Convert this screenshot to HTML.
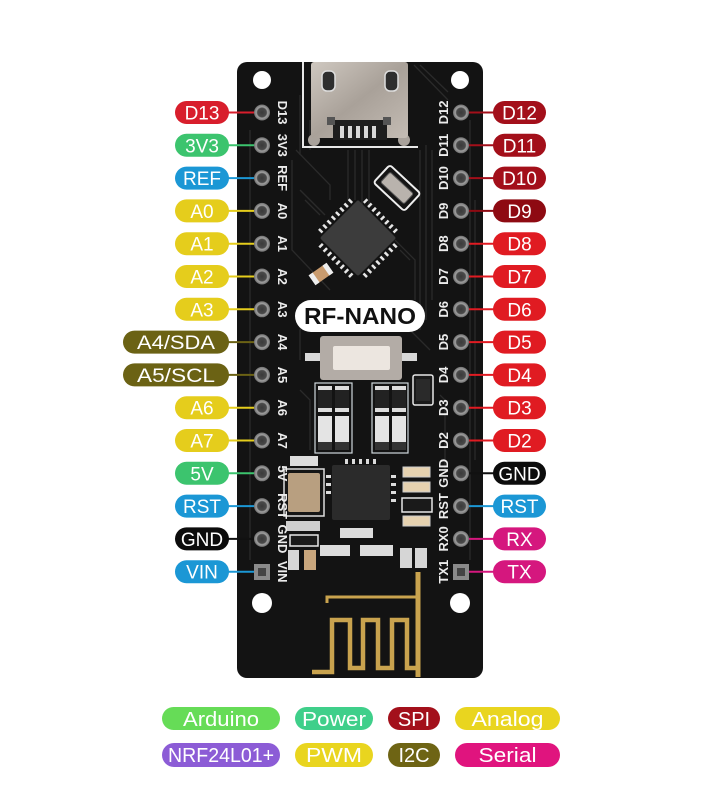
<!DOCTYPE html>
<html><head><meta charset="utf-8"><style>
html,body{margin:0;padding:0;background:#fff;}
svg{display:block;}
text{font-family:"Liberation Sans",sans-serif;}
</style></head><body>
<svg width="701" height="804" viewBox="0 0 701 804" xmlns="http://www.w3.org/2000/svg">
<defs>
<radialGradient id="pad" cx="50%" cy="50%" r="50%">
<stop offset="0" stop-color="#3a3a3a"/><stop offset="0.55" stop-color="#4a4a4a"/><stop offset="0.7" stop-color="#a0a0a0"/><stop offset="1" stop-color="#707070"/>
</radialGradient>
<linearGradient id="metal" x1="0" y1="0" x2="1" y2="1">
<stop offset="0" stop-color="#cfc8c0"/><stop offset="0.5" stop-color="#a9a199"/><stop offset="1" stop-color="#c4bcb4"/>
</linearGradient>
</defs>
<rect width="701" height="804" fill="#fff"/>

<!-- Board -->
<rect x="237" y="62" width="246" height="616" rx="10" fill="#131313"/>

<!-- traces -->
<g stroke="#2a2a2a" stroke-width="1.3" fill="none">
<path d="M250 130 L250 560"/><path d="M292 160 L292 250 L330 290"/>
<path d="M296 150 L330 185 L330 200"/><path d="M300 190 L325 215"/><path d="M305 200 L320 215"/>
<path d="M300 155 L300 95 M310 150 L310 120"/>
<path d="M420 150 L420 330 M426 145 L426 320 M432 150 L432 300"/>
<path d="M414 65 L448 100 M420 65 L448 92"/>
<path d="M395 240 L415 260 L415 300 M400 250 L410 260"/>
<path d="M320 300 L300 330 L300 360 M410 330 L430 350"/>
<path d="M300 390 L310 400 L310 450 M440 395 L445 400 L445 470"/>
<path d="M470 120 L470 560 M475 200 L475 460"/>
<path d="M355 150 L355 200 M362 150 L362 205 M369 150 L369 205 M348 150 L348 200"/>
</g>

<!-- USB connector -->
<path d="M303 62 L303 147 L418 147" stroke="#e8e8e8" stroke-width="2" fill="none"/>
<circle cx="314" cy="140" r="6" fill="#a9a29b"/><circle cx="404" cy="140" r="6" fill="#a9a29b"/>
<rect x="311" y="62" width="97" height="76" rx="3" fill="url(#metal)"/>
<rect x="322" y="71" width="13" height="20" rx="5" fill="#2e2e2e" stroke="#ddd" stroke-width="1.5"/>
<rect x="385" y="71" width="13" height="20" rx="5" fill="#2e2e2e" stroke="#ddd" stroke-width="1.5"/>
<rect x="333" y="120" width="54" height="20" fill="#1e1e1e"/>
<g fill="#d8d8d8"><rect x="340" y="126" width="4" height="12"/><rect x="348" y="126" width="4" height="12"/><rect x="356" y="126" width="4" height="12"/><rect x="364" y="126" width="4" height="12"/><rect x="372" y="126" width="4" height="12"/></g>
<rect x="327" y="117" width="8" height="8" fill="#555"/><rect x="383" y="117" width="8" height="8" fill="#555"/>

<!-- mounting holes -->
<circle cx="262" cy="80" r="9" fill="#fff"/><circle cx="460" cy="80" r="9" fill="#fff"/>
<circle cx="262" cy="603" r="10" fill="#fff"/><circle cx="460" cy="603" r="10" fill="#fff"/>

<!-- crystal near chip -->
<g transform="translate(397,188) rotate(43)">
<rect x="-21" y="-12" width="42" height="24" rx="3" fill="#151515" stroke="#eee" stroke-width="2"/>
<rect x="-16" y="-7" width="32" height="14" rx="2" fill="#b9b3ad" stroke="#555" stroke-width="1"/>
</g>

<!-- MCU chip -->
<g transform="translate(358,238) rotate(45)">
<rect x="-27" y="-27" width="54" height="54" rx="2" fill="#3c3c3c"/>
<g fill="#e6e6e6">
<rect x="-22" y="-34" width="2.5" height="5"/><rect x="-16" y="-34" width="2.5" height="5"/><rect x="-10" y="-34" width="2.5" height="5"/><rect x="-4" y="-34" width="2.5" height="5"/><rect x="2" y="-34" width="2.5" height="5"/><rect x="8" y="-34" width="2.5" height="5"/><rect x="14" y="-34" width="2.5" height="5"/><rect x="20" y="-34" width="2.5" height="5"/>
<rect x="-22" y="29" width="2.5" height="5"/><rect x="-16" y="29" width="2.5" height="5"/><rect x="-10" y="29" width="2.5" height="5"/><rect x="-4" y="29" width="2.5" height="5"/><rect x="2" y="29" width="2.5" height="5"/><rect x="8" y="29" width="2.5" height="5"/><rect x="14" y="29" width="2.5" height="5"/><rect x="20" y="29" width="2.5" height="5"/>
<rect y="-22" x="-34" height="2.5" width="5"/><rect y="-16" x="-34" height="2.5" width="5"/><rect y="-10" x="-34" height="2.5" width="5"/><rect y="-4" x="-34" height="2.5" width="5"/><rect y="2" x="-34" height="2.5" width="5"/><rect y="8" x="-34" height="2.5" width="5"/><rect y="14" x="-34" height="2.5" width="5"/><rect y="20" x="-34" height="2.5" width="5"/>
<rect y="-22" x="29" height="2.5" width="5"/><rect y="-16" x="29" height="2.5" width="5"/><rect y="-10" x="29" height="2.5" width="5"/><rect y="-4" x="29" height="2.5" width="5"/><rect y="2" x="29" height="2.5" width="5"/><rect y="8" x="29" height="2.5" width="5"/><rect y="14" x="29" height="2.5" width="5"/><rect y="20" x="29" height="2.5" width="5"/>
</g>
</g>

<!-- small cap near chip -->
<g transform="translate(321,274) rotate(-35)">
<rect x="-10" y="-6" width="20" height="12" fill="#c99b6e"/>
<rect x="-11" y="-6" width="5" height="12" fill="#eee"/><rect x="6" y="-6" width="5" height="12" fill="#eee"/>
</g>

<!-- RF-NANO label -->
<rect x="295" y="300" width="130" height="32" rx="16" fill="#fff"/>
<text x="360" y="324" font-size="23" font-weight="bold" fill="#111" text-anchor="middle" textLength="112" lengthAdjust="spacingAndGlyphs">RF-NANO</text>

<!-- button -->
<rect x="305" y="353" width="16" height="8" fill="#d8d8d8"/><rect x="401" y="353" width="16" height="8" fill="#d8d8d8"/>
<rect x="320" y="336" width="82" height="44" rx="3" fill="#b3aca6"/>
<rect x="333" y="346" width="57" height="24" rx="2" fill="#ece6e0"/>

<!-- resistor/LED pairs -->
<g>
<rect x="315" y="383" width="37" height="70" fill="none" stroke="#cfd8dc" stroke-width="1.2"/>
<rect x="372" y="383" width="36" height="70" fill="none" stroke="#cfd8dc" stroke-width="1.2"/>
<g fill="#222"><rect x="318" y="386" width="14" height="26"/><rect x="335" y="386" width="14" height="26"/><rect x="375" y="386" width="14" height="26"/><rect x="392" y="386" width="14" height="26"/></g>
<g fill="#ddd"><rect x="318" y="386" width="14" height="4"/><rect x="335" y="386" width="14" height="4"/><rect x="375" y="386" width="14" height="4"/><rect x="392" y="386" width="14" height="4"/>
<rect x="318" y="408" width="14" height="4"/><rect x="335" y="408" width="14" height="4"/><rect x="375" y="408" width="14" height="4"/><rect x="392" y="408" width="14" height="4"/></g>
<g fill="#e4e4e4"><rect x="318" y="416" width="14" height="28"/><rect x="335" y="416" width="14" height="28"/><rect x="375" y="416" width="14" height="28"/><rect x="392" y="416" width="14" height="28"/></g>
<g fill="#333"><rect x="318" y="442" width="14" height="8"/><rect x="335" y="442" width="14" height="8"/><rect x="375" y="442" width="14" height="8"/><rect x="392" y="442" width="14" height="8"/></g>
<rect x="413" y="375" width="20" height="30" rx="2" fill="#1a1a1a" stroke="#e8e8e8" stroke-width="1.5"/>
<rect x="416" y="379" width="14" height="22" fill="#2a2a2a"/>
</g>

<!-- QFN -->
<rect x="332" y="465" width="58" height="55" rx="2" fill="#2b2b2b"/>
<g fill="#dcdcdc">
<rect x="345" y="459" width="3" height="5"/><rect x="352" y="459" width="3" height="5"/><rect x="359" y="459" width="3" height="5"/><rect x="366" y="459" width="3" height="5"/><rect x="373" y="459" width="3" height="5"/>
<rect x="391" y="475" width="5" height="3"/><rect x="391" y="483" width="5" height="3"/><rect x="391" y="491" width="5" height="3"/><rect x="391" y="499" width="5" height="3"/>
<rect x="326" y="475" width="5" height="3"/><rect x="326" y="483" width="5" height="3"/><rect x="326" y="491" width="5" height="3"/>
</g>

<!-- crystal 5V -->
<rect x="290" y="456" width="28" height="10" fill="#ddd"/>
<rect x="284" y="469" width="40" height="47" fill="#151515" stroke="#ddd" stroke-width="1.5"/>
<rect x="288" y="473" width="32" height="39" rx="2" fill="#b89f80"/>
<rect x="286" y="521" width="34" height="10" fill="#cfcfcf"/>
<rect x="290" y="535" width="28" height="11" fill="#1a1a1a" stroke="#e8e8e8" stroke-width="1.5"/>
<rect x="288" y="550" width="11" height="20" fill="#d6d6d6"/><rect x="304" y="550" width="12" height="20" fill="#c9a67c"/>

<!-- right caps -->
<rect x="403" y="467" width="27" height="10" fill="#e6d2b0" stroke="#ccc"/>
<rect x="403" y="482" width="27" height="10" fill="#e6d2b0" stroke="#ccc"/>
<rect x="402" y="498" width="30" height="14" fill="#1a1a1a" stroke="#e8e8e8" stroke-width="1.5"/>
<rect x="403" y="516" width="27" height="10" fill="#e6d2b0" stroke="#ccc"/>
<rect x="340" y="528" width="33" height="10" fill="#dcdcdc"/>
<rect x="320" y="545" width="30" height="11" fill="#dcdcdc"/>
<rect x="360" y="545" width="33" height="11" fill="#dcdcdc"/>
<rect x="400" y="548" width="12" height="20" fill="#d6d6d6"/><rect x="415" y="548" width="12" height="20" fill="#d6d6d6"/>

<!-- antenna -->
<g stroke="#c9a34e" fill="none">
<path d="M418 572 L418 677" stroke-width="5"/>
<path d="M327 603 L327 597 L418 597" stroke-width="3"/>
<path d="M312 672 L332 672 L332 620 L350 620 L350 668 L363 668 L363 620 L378 620 L378 668 L392 668 L392 620 L407 620 L407 668 L418 668" stroke-width="4.5"/>
</g>

<!-- connectors left -->
<g stroke-width="2">
<line x1="228" y1="112.5" x2="262" y2="112.5" stroke="#d81e2c"/>
<line x1="228" y1="145.3" x2="262" y2="145.3" stroke="#3cc46e"/>
<line x1="228" y1="178.1" x2="262" y2="178.1" stroke="#1b97d5"/>
<line x1="228" y1="210.9" x2="262" y2="210.9" stroke="#e5cd1c"/>
<line x1="228" y1="243.7" x2="262" y2="243.7" stroke="#e5cd1c"/>
<line x1="228" y1="276.5" x2="262" y2="276.5" stroke="#e5cd1c"/>
<line x1="228" y1="309.3" x2="262" y2="309.3" stroke="#e5cd1c"/>
<line x1="228" y1="342.1" x2="262" y2="342.1" stroke="#6b6214"/>
<line x1="228" y1="374.9" x2="262" y2="374.9" stroke="#6b6214"/>
<line x1="228" y1="407.7" x2="262" y2="407.7" stroke="#e5cd1c"/>
<line x1="228" y1="440.5" x2="262" y2="440.5" stroke="#e5cd1c"/>
<line x1="228" y1="473.3" x2="262" y2="473.3" stroke="#3cc46e"/>
<line x1="228" y1="506.1" x2="262" y2="506.1" stroke="#1b97d5"/>
<line x1="228" y1="538.9" x2="262" y2="538.9" stroke="#111"/>
<line x1="228" y1="571.7" x2="262" y2="571.7" stroke="#1b97d5"/>
</g>
<!-- connectors right -->
<g stroke-width="2">
<line x1="461" y1="112.5" x2="494" y2="112.5" stroke="#a30f1a"/>
<line x1="461" y1="145.3" x2="494" y2="145.3" stroke="#a30f1a"/>
<line x1="461" y1="178.1" x2="494" y2="178.1" stroke="#a30f1a"/>
<line x1="461" y1="210.9" x2="494" y2="210.9" stroke="#8e0a12"/>
<line x1="461" y1="243.7" x2="494" y2="243.7" stroke="#e01b22"/>
<line x1="461" y1="276.5" x2="494" y2="276.5" stroke="#e01b22"/>
<line x1="461" y1="309.3" x2="494" y2="309.3" stroke="#e01b22"/>
<line x1="461" y1="342.1" x2="494" y2="342.1" stroke="#e01b22"/>
<line x1="461" y1="374.9" x2="494" y2="374.9" stroke="#e01b22"/>
<line x1="461" y1="407.7" x2="494" y2="407.7" stroke="#e01b22"/>
<line x1="461" y1="440.5" x2="494" y2="440.5" stroke="#e01b22"/>
<line x1="461" y1="473.3" x2="494" y2="473.3" stroke="#111"/>
<line x1="461" y1="506.1" x2="494" y2="506.1" stroke="#1b97d5"/>
<line x1="461" y1="538.9" x2="494" y2="538.9" stroke="#d5177e"/>
<line x1="461" y1="571.7" x2="494" y2="571.7" stroke="#d5177e"/>
</g>

<!-- pads -->
<g fill="url(#pad)">
<circle cx="262" cy="112.5" r="8"/><circle cx="262" cy="145.3" r="8"/><circle cx="262" cy="178.1" r="8"/><circle cx="262" cy="210.9" r="8"/><circle cx="262" cy="243.7" r="8"/><circle cx="262" cy="276.5" r="8"/><circle cx="262" cy="309.3" r="8"/><circle cx="262" cy="342.1" r="8"/><circle cx="262" cy="374.9" r="8"/><circle cx="262" cy="407.7" r="8"/><circle cx="262" cy="440.5" r="8"/><circle cx="262" cy="473.3" r="8"/><circle cx="262" cy="506.1" r="8"/><circle cx="262" cy="538.9" r="8"/>
<circle cx="461" cy="112.5" r="8"/><circle cx="461" cy="145.3" r="8"/><circle cx="461" cy="178.1" r="8"/><circle cx="461" cy="210.9" r="8"/><circle cx="461" cy="243.7" r="8"/><circle cx="461" cy="276.5" r="8"/><circle cx="461" cy="309.3" r="8"/><circle cx="461" cy="342.1" r="8"/><circle cx="461" cy="374.9" r="8"/><circle cx="461" cy="407.7" r="8"/><circle cx="461" cy="440.5" r="8"/><circle cx="461" cy="473.3" r="8"/><circle cx="461" cy="506.1" r="8"/><circle cx="461" cy="538.9" r="8"/>
</g>
<rect x="254" y="564" width="16" height="16" fill="#8a8a8a"/><rect x="258" y="568" width="8" height="8" fill="#444"/>
<rect x="453" y="564" width="16" height="16" fill="#8a8a8a"/><rect x="457" y="568" width="8" height="8" fill="#444"/>

<!-- silk labels left -->
<g font-size="13" font-weight="bold" fill="#ececec" text-anchor="middle">
<text transform="translate(278,112.5) rotate(90)">D13</text>
<text transform="translate(278,145.3) rotate(90)">3V3</text>
<text transform="translate(278,178.1) rotate(90)">REF</text>
<text transform="translate(278,210.9) rotate(90)">A0</text>
<text transform="translate(278,243.7) rotate(90)">A1</text>
<text transform="translate(278,276.5) rotate(90)">A2</text>
<text transform="translate(278,309.3) rotate(90)">A3</text>
<text transform="translate(278,342.1) rotate(90)">A4</text>
<text transform="translate(278,374.9) rotate(90)">A5</text>
<text transform="translate(278,407.7) rotate(90)">A6</text>
<text transform="translate(278,440.5) rotate(90)">A7</text>
<text transform="translate(278,473.3) rotate(90)">5V</text>
<text transform="translate(278,506.1) rotate(90)">RST</text>
<text transform="translate(278,538.9) rotate(90)">GND</text>
<text transform="translate(278,571.7) rotate(90)">VIN</text>
</g>
<!-- silk labels right -->
<g font-size="13" font-weight="bold" fill="#ececec" text-anchor="middle">
<text transform="translate(448,112.5) rotate(-90)">D12</text>
<text transform="translate(448,145.3) rotate(-90)">D11</text>
<text transform="translate(448,178.1) rotate(-90)">D10</text>
<text transform="translate(448,210.9) rotate(-90)">D9</text>
<text transform="translate(448,243.7) rotate(-90)">D8</text>
<text transform="translate(448,276.5) rotate(-90)">D7</text>
<text transform="translate(448,309.3) rotate(-90)">D6</text>
<text transform="translate(448,342.1) rotate(-90)">D5</text>
<text transform="translate(448,374.9) rotate(-90)">D4</text>
<text transform="translate(448,407.7) rotate(-90)">D3</text>
<text transform="translate(448,440.5) rotate(-90)">D2</text>
<text transform="translate(448,473.3) rotate(-90)">GND</text>
<text transform="translate(448,506.1) rotate(-90)">RST</text>
<text transform="translate(448,538.9) rotate(-90)">RX0</text>
<text transform="translate(448,571.7) rotate(-90)">TX1</text>
</g>

<!-- left pills -->
<g>
<rect x="175" y="101" width="54" height="23" rx="11.5" fill="#d81e2c"/>
<rect x="175" y="133.8" width="54" height="23" rx="11.5" fill="#3cc46e"/>
<rect x="175" y="166.6" width="54" height="23" rx="11.5" fill="#1b97d5"/>
<rect x="175" y="199.4" width="54" height="23" rx="11.5" fill="#e5cd1c"/>
<rect x="175" y="232.2" width="54" height="23" rx="11.5" fill="#e5cd1c"/>
<rect x="175" y="265" width="54" height="23" rx="11.5" fill="#e5cd1c"/>
<rect x="175" y="297.8" width="54" height="23" rx="11.5" fill="#e5cd1c"/>
<rect x="123" y="330.6" width="106" height="23" rx="11.5" fill="#6b6214"/>
<rect x="123" y="363.4" width="106" height="23" rx="11.5" fill="#6b6214"/>
<rect x="175" y="396.2" width="54" height="23" rx="11.5" fill="#e5cd1c"/>
<rect x="175" y="429" width="54" height="23" rx="11.5" fill="#e5cd1c"/>
<rect x="175" y="461.8" width="54" height="23" rx="11.5" fill="#3cc46e"/>
<rect x="175" y="494.6" width="54" height="23" rx="11.5" fill="#1b97d5"/>
<rect x="175" y="527.4" width="54" height="23" rx="11.5" fill="#0c0c0c"/>
<rect x="175" y="560.2" width="54" height="23" rx="11.5" fill="#1b97d5"/>
</g>
<g font-size="19" fill="#fff" text-anchor="middle">
<text x="202" y="119.5">D13</text>
<text x="202" y="152.3">3V3</text>
<text x="202" y="185.1">REF</text>
<text x="202" y="217.9">A0</text>
<text x="202" y="250.7">A1</text>
<text x="202" y="283.5">A2</text>
<text x="202" y="316.3">A3</text>
<text x="176" y="349.1" textLength="78" lengthAdjust="spacingAndGlyphs">A4/SDA</text>
<text x="176" y="381.9" textLength="78" lengthAdjust="spacingAndGlyphs">A5/SCL</text>
<text x="202" y="414.7">A6</text>
<text x="202" y="447.5">A7</text>
<text x="202" y="480.3">5V</text>
<text x="202" y="513.1">RST</text>
<text x="202" y="545.9">GND</text>
<text x="202" y="578.7">VIN</text>
</g>

<!-- right pills -->
<g>
<rect x="493" y="101" width="53" height="23" rx="11.5" fill="#a30f1a"/>
<rect x="493" y="133.8" width="53" height="23" rx="11.5" fill="#a30f1a"/>
<rect x="493" y="166.6" width="53" height="23" rx="11.5" fill="#a30f1a"/>
<rect x="493" y="199.4" width="53" height="23" rx="11.5" fill="#8e0a12"/>
<rect x="493" y="232.2" width="53" height="23" rx="11.5" fill="#e01b22"/>
<rect x="493" y="265" width="53" height="23" rx="11.5" fill="#e01b22"/>
<rect x="493" y="297.8" width="53" height="23" rx="11.5" fill="#e01b22"/>
<rect x="493" y="330.6" width="53" height="23" rx="11.5" fill="#e01b22"/>
<rect x="493" y="363.4" width="53" height="23" rx="11.5" fill="#e01b22"/>
<rect x="493" y="396.2" width="53" height="23" rx="11.5" fill="#e01b22"/>
<rect x="493" y="429" width="53" height="23" rx="11.5" fill="#e01b22"/>
<rect x="493" y="461.8" width="53" height="23" rx="11.5" fill="#0c0c0c"/>
<rect x="493" y="494.6" width="53" height="23" rx="11.5" fill="#1b97d5"/>
<rect x="493" y="527.4" width="53" height="23" rx="11.5" fill="#d5177e"/>
<rect x="493" y="560.2" width="53" height="23" rx="11.5" fill="#d5177e"/>
</g>
<g font-size="19" fill="#fff" text-anchor="middle">
<text x="519.5" y="119.5">D12</text>
<text x="519.5" y="152.3">D11</text>
<text x="519.5" y="185.1">D10</text>
<text x="519.5" y="217.9">D9</text>
<text x="519.5" y="250.7">D8</text>
<text x="519.5" y="283.5">D7</text>
<text x="519.5" y="316.3">D6</text>
<text x="519.5" y="349.1">D5</text>
<text x="519.5" y="381.9">D4</text>
<text x="519.5" y="414.7">D3</text>
<text x="519.5" y="447.5">D2</text>
<text x="519.5" y="480.3">GND</text>
<text x="519.5" y="513.1">RST</text>
<text x="519.5" y="545.9">RX</text>
<text x="519.5" y="578.7">TX</text>
</g>

<!-- legend -->
<g>
<rect x="162" y="707" width="118" height="23" rx="11.5" fill="#66dc57"/>
<rect x="295" y="707" width="78" height="23" rx="11.5" fill="#3fcf8a"/>
<rect x="388" y="707" width="52" height="23" rx="11.5" fill="#a3101b"/>
<rect x="455" y="707" width="105" height="23" rx="11.5" fill="#e9d51f"/>
<rect x="162" y="743" width="118" height="24" rx="12" fill="#8c5cd6"/>
<rect x="295" y="743" width="78" height="24" rx="12" fill="#e9d51f"/>
<rect x="388" y="743" width="52" height="24" rx="12" fill="#6e6414"/>
<rect x="455" y="743" width="105" height="24" rx="12" fill="#e0147e"/>
</g>
<g font-size="20" fill="#fff" text-anchor="middle">
<text x="221" y="726" textLength="76" lengthAdjust="spacingAndGlyphs">Arduino</text>
<text x="334" y="726" textLength="64" lengthAdjust="spacingAndGlyphs">Power</text>
<text x="414" y="726">SPI</text>
<text x="507.5" y="726" textLength="72" lengthAdjust="spacingAndGlyphs">Analog</text>
<text x="221" y="762" textLength="106" lengthAdjust="spacingAndGlyphs">NRF24L01+</text>
<text x="334" y="762" textLength="56" lengthAdjust="spacingAndGlyphs">PWM</text>
<text x="414" y="762">I2C</text>
<text x="507.5" y="762" textLength="58" lengthAdjust="spacingAndGlyphs">Serial</text>
</g>
</svg>
</body></html>
